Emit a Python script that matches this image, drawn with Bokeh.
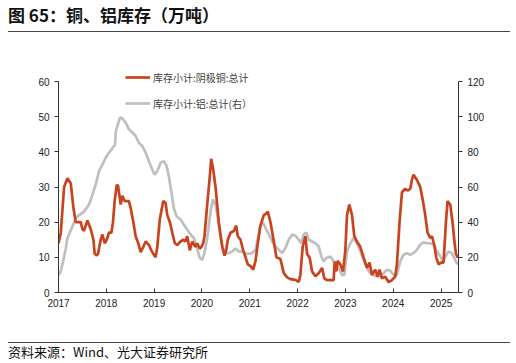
import pandas as pd
from bokeh.plotting import figure
from bokeh.layouts import column
from bokeh.models import (Range1d, LinearAxis, Legend, LegendItem, Div,
                          FixedTicker, DatetimeTickFormatter)
from bokeh.embed import file_html
from bokeh.resources import INLINE

# ---------------- data ----------------
title_text = "图 65：铜、铝库存（万吨）"
source_text = "资料来源：Wind、光大证券研究所"
copper_name = "库存小计:阴极铜:总计"
alu_name = "库存小计:铝:总计(右）"
years = list(range(2017, 2026))

# copper inventory, 10k t (left axis); time in decimal years
copper_t = [2017.000, 2017.048, 2017.117, 2017.188, 2017.257, 2017.313, 2017.361, 2017.466,
            2017.501, 2017.534, 2017.605, 2017.674, 2017.731, 2017.758, 2017.800, 2017.827,
            2017.883, 2017.919, 2017.967, 2018.008, 2018.056, 2018.106, 2018.140, 2018.175,
            2018.217, 2018.244, 2018.301, 2018.336, 2018.384, 2018.474, 2018.509, 2018.566,
            2018.614, 2018.670, 2018.718, 2018.775, 2018.823, 2018.891, 2018.942, 2018.983,
            2019.031, 2019.067, 2019.121, 2019.150, 2019.192, 2019.240, 2019.276, 2019.330,
            2019.380, 2019.434, 2019.484, 2019.553, 2019.610, 2019.658, 2019.693, 2019.747,
            2019.797, 2019.866, 2019.902, 2019.956, 2019.992, 2020.027, 2020.054, 2020.111,
            2020.159, 2020.194, 2020.236, 2020.284, 2020.353, 2020.424, 2020.472, 2020.507,
            2020.541, 2020.597, 2020.666, 2020.716, 2020.749, 2020.806, 2020.862, 2020.910,
            2020.958, 2021.015, 2021.071, 2021.119, 2021.167, 2021.209, 2021.223, 2021.292,
            2021.349, 2021.376, 2021.432, 2021.501, 2021.557, 2021.641, 2021.710, 2021.781,
            2021.850, 2021.954, 2022.023, 2022.058, 2022.106, 2022.163, 2022.198, 2022.253,
            2022.303, 2022.372, 2022.441, 2022.511, 2022.559, 2022.616, 2022.754, 2022.775,
            2022.810, 2022.837, 2022.894, 2022.950, 2022.998, 2023.033, 2023.081, 2023.138,
            2023.186, 2023.242, 2023.311, 2023.380, 2023.451, 2023.505, 2023.555, 2023.624,
            2023.672, 2023.714, 2023.764, 2023.833, 2023.902, 2023.973, 2024.042, 2024.077,
            2024.132, 2024.182, 2024.251, 2024.299, 2024.355, 2024.390, 2024.424, 2024.495,
            2024.564, 2024.620, 2024.668, 2024.716, 2024.772, 2024.808, 2024.856, 2024.898,
            2024.946, 2024.996, 2025.050, 2025.100, 2025.134, 2025.190, 2025.238, 2025.274,
            2025.309, 2025.342, 2025.363]
copper_v = [14, 17, 30, 32.5, 31, 24, 20, 20,
            18, 17.5, 20.5, 18, 15, 11, 10.5, 11,
            15, 16.5, 14, 15, 17, 17, 20, 26,
            30.5, 30.5, 25, 27.5, 26, 26, 24, 20,
            16, 14, 11.5, 13, 14.5, 13.5, 12, 11,
            10, 13, 21, 23, 26, 25.5, 22, 20,
            17, 14, 13.5, 14.5, 15, 14.5, 16, 12,
            14.5, 13, 14, 12.5, 13, 14, 16, 25,
            32, 38, 35, 30, 20, 13, 10.5, 12,
            15, 17, 17.5, 19, 16, 15, 12, 10,
            8, 7.5, 6.5, 9, 14, 18, 19, 22,
            22.5, 23, 20, 14.5, 10, 9.5, 5.5, 4.3,
            3.8, 3.6, 3, 5, 13, 16, 11, 9.8,
            6, 4.6, 5.5, 7, 4, 3.5, 3.5, 8.8,
            6, 9, 8, 6, 12, 22, 25, 22,
            16, 14.5, 13, 10, 7, 8.5, 5, 6.5,
            4.5, 6.5, 4, 4.5, 3, 3.5, 4.5, 8,
            20, 28.5, 29.5, 29, 29.5, 32, 33.5, 32,
            30, 26, 22, 17, 15.5, 16, 13.5, 10,
            8, 8.5, 8.5, 20, 26, 25, 20, 15,
            11, 10, 10.5]

# aluminium inventory, 10k t (right axis)
alu_t = [2017.000, 2017.048, 2017.096, 2017.152, 2017.188, 2017.236, 2017.292, 2017.361,
         2017.430, 2017.534, 2017.639, 2017.710, 2017.779, 2017.848, 2017.919, 2017.987,
         2018.056, 2018.127, 2018.182, 2018.196, 2018.232, 2018.286, 2018.336, 2018.405,
         2018.474, 2018.545, 2018.614, 2018.683, 2018.754, 2018.823, 2018.891, 2018.962,
         2019.010, 2019.067, 2019.136, 2019.205, 2019.261, 2019.309, 2019.359, 2019.413,
         2019.470, 2019.553, 2019.622, 2019.693, 2019.762, 2019.831, 2019.902, 2019.956,
         2020.006, 2020.054, 2020.111, 2020.180, 2020.228, 2020.284, 2020.332, 2020.388,
         2020.445, 2020.493, 2020.562, 2020.633, 2020.702, 2020.770, 2020.841, 2020.946,
         2021.050, 2021.119, 2021.188, 2021.223, 2021.280, 2021.328, 2021.397, 2021.468,
         2021.537, 2021.605, 2021.676, 2021.745, 2021.814, 2021.885, 2021.954, 2022.023,
         2022.073, 2022.127, 2022.184, 2022.232, 2022.303, 2022.372, 2022.441, 2022.497,
         2022.545, 2022.601, 2022.685, 2022.754, 2022.810, 2022.858, 2022.929, 2022.977,
         2023.033, 2023.102, 2023.171, 2023.242, 2023.311, 2023.380, 2023.451, 2023.520,
         2023.589, 2023.660, 2023.729, 2023.798, 2023.869, 2023.937, 2024.006, 2024.077,
         2024.146, 2024.215, 2024.286, 2024.355, 2024.424, 2024.495, 2024.564, 2024.633,
         2024.704, 2024.772, 2024.841, 2024.912, 2024.981, 2025.038, 2025.086, 2025.154,
         2025.225, 2025.274, 2025.330, 2025.363]
alu_v = [10, 12, 17.7, 25, 31, 34, 37.7, 42.4,
         44, 46, 50, 55.7, 61.4, 69, 72.8, 76.6,
         79.5, 82, 84, 91, 94.7, 99.5, 99, 96.6,
         92.8, 91, 89, 85, 83.3, 79.5, 74.7, 70,
         67, 69, 73.8, 74.7, 72, 66, 57.6, 48,
         43.4, 41.5, 38.6, 35.8, 33, 31, 25, 19.6,
         18.6, 22.4, 31, 46, 52.9, 50, 42.4, 31,
         25, 22.4, 22.4, 23.4, 25, 23.4, 23.4, 21.9,
         22.4, 24.3, 33, 38.6, 39.6, 36.7, 33, 29,
         26.2, 24.3, 22.4, 25.3, 30, 33, 32.3, 30,
         28, 33, 34, 30, 29, 28, 26.2, 20.5,
         17.7, 19.6, 20.5, 17.7, 16.7, 13.9, 10, 10,
         23.4, 28, 31, 28, 23.4, 18.6, 13.9, 11,
         10, 9.1, 9.1, 11, 12.9, 12.4, 10, 10,
         17.7, 21.5, 22.4, 21.5, 22.4, 24.3, 27.2, 28.5,
         28, 28, 27.2, 23.4, 20.5, 17.7, 20.5, 23.4,
         22.4, 19.6, 16.7, 16.2]


def to_dt(t):
    y = int(t)
    start = pd.Timestamp(year=y, month=1, day=1)
    end = pd.Timestamp(year=y + 1, month=1, day=1)
    return start + (end - start) * (t - y)


cu_x = [to_dt(t) for t in copper_t]
al_x = [to_dt(t) for t in alu_t]

RED = "#C9431F"
GRAY = "#BFBFBF"
CJK = "Noto Sans CJK SC"
LAT = "Liberation Sans"

# frame: 232 px tall, of which the lower 211 px carry the 0..60 axis
FRAME_H = 232
AXIS_H = 211
left_top = 60 * FRAME_H / AXIS_H
right_top = 120 * FRAME_H / AXIS_H

W, H = 508, 310
p = figure(width=W, height=H, output_backend="svg", toolbar_location=None,
           x_axis_type="datetime",
           x_range=Range1d(to_dt(2017.0), to_dt(2025.363)),
           y_range=Range1d(0, left_top),
           min_border_left=50, min_border_right=58,
           min_border_top=28, min_border_bottom=50, margin=0)
p.extra_y_ranges = {"right": Range1d(0, right_top)}
p.outline_line_color = None
p.xgrid.visible = False
p.ygrid.visible = False
p.background_fill_color = "white"
p.border_fill_color = None
p.border_fill_alpha = 0

r_al = p.line(al_x, alu_v, y_range_name="right", line_color=GRAY, line_width=2.7)
r_cu = p.line(cu_x, copper_v, line_color=RED, line_width=2.7)

ax_r = LinearAxis(y_range_name="right", bounds=(0, 120))
p.add_layout(ax_r, "right")
p.yaxis[0].bounds = (0, 60)

p.xaxis.ticker = FixedTicker(ticks=[to_dt(y).value / 1e6 for y in years])
p.xaxis.formatter = DatetimeTickFormatter(years="%Y", months="%Y", days="%Y")
p.yaxis[0].ticker = FixedTicker(ticks=list(range(0, 61, 10)))
ax_r.ticker = FixedTicker(ticks=list(range(0, 121, 20)))

for ax in [p.xaxis[0], p.yaxis[0], ax_r]:
    ax.axis_line_color = "#333333"
    ax.major_tick_line_color = "#333333"
    ax.minor_tick_line_color = None
    ax.major_label_text_font = LAT
    ax.major_label_text_font_size = "10px"
    ax.major_label_text_color = "#222222"
for ax in [p.yaxis[0], ax_r]:
    ax.major_tick_in = 0
    ax.major_tick_out = 4
    ax.major_label_standoff = 5
p.xaxis.major_tick_in = 4
p.xaxis.major_tick_out = 0
p.xaxis.major_label_standoff = 6

legend = Legend(items=[LegendItem(label=copper_name, renderers=[r_cu]),
                       LegendItem(label=alu_name, renderers=[r_al])],
                location=(67, 179), orientation="vertical",
                background_fill_alpha=0, border_line_color=None,
                padding=0, margin=0, spacing=6,
                glyph_height=20, glyph_width=25, label_height=20,
                label_standoff=3, label_text_font=CJK,
                label_text_font_size="10px", label_text_color="#404040")
p.add_layout(legend)

title_html = (
    "<div style=\"margin-top:-2px;font-family:'Noto Sans CJK SC';font-size:17px;"
    "font-weight:bold;line-height:17px;color:#111;white-space:nowrap;\">"
    + title_text + "</div>")
source_html = (
    "<div style=\"padding-top:3px;font-family:'Noto Sans CJK SC';"
    "font-size:13px;line-height:13px;color:#111;white-space:nowrap;\">"
    + source_text + "</div>")

title_div = Div(text=title_html, width=502, height=24, margin=0,
                styles={"background": "linear-gradient(to top, #444444 0px, #444444 1px, "
                                      "transparent 1px)"})
source_div = Div(text=source_html, width=502, height=21, margin=0,
                 styles={"background": "linear-gradient(to bottom, #444444 0px, #444444 1px, "
                                       "transparent 1px)"})

layout = column(title_div, p, source_div, spacing=0, margin=(8, 0, 0, 8))
open("out.html", "w").write(file_html(layout, INLINE))
